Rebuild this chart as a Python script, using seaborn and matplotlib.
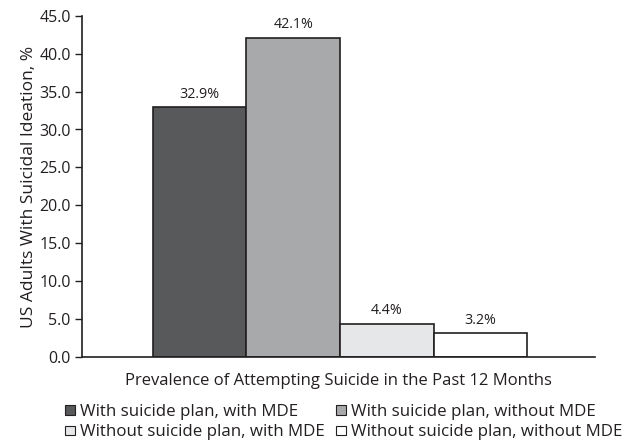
import pandas as pd
import seaborn as sns
import matplotlib.pyplot as plt

groups = ['With suicide plan, with MDE', 'With suicide plan, without MDE',
          'Without suicide plan, with MDE', 'Without suicide plan, without MDE']
values = [32.9, 42.1, 4.4, 3.2]
colors = ['#58595b', '#a7a9ac', '#e6e7e8', '#ffffff']

df = pd.DataFrame({'outcome': ['Prevalence'] * 4, 'group': groups, 'value': values})

sns.set_style('white')
plt.rcParams['font.family'] = ['Open Sans', 'DejaVu Sans']

fig, ax = plt.subplots(figsize=(6.35, 4.44), dpi=100)
sns.barplot(data=df, x='outcome', y='value', hue='group', palette=colors,
            edgecolor='#231f20', linewidth=1.2, width=0.729, ax=ax, legend=True)

for c in ax.containers:
    ax.bar_label(c, labels=[f'{v:.1f}%' for v in c.datavalues], padding=4,
                 fontsize=10.3, color='#231f20')

ax.set_ylim(0, 45)
ax.set_yticks(range(0, 50, 5))
ax.set_yticklabels([f'{t:.1f}' for t in range(0, 50, 5)], fontsize=11.5, color='#231f20')
ax.set_xlim(-0.503, 0.497)
ax.set_xticks([])
ax.set_xlabel('Prevalence of Attempting Suicide in the Past 12 Months', fontsize=12,
              color='#231f20', labelpad=11)
ax.set_ylabel('US Adults With Suicidal Ideation, %', fontsize=12.5, color='#231f20')
ax.yaxis.set_label_coords(-0.088, 0.50)
ax.tick_params(axis='y', direction='out', length=5, width=1, color='#231f20', left=True, pad=3)
sns.despine(ax=ax)
for s in ['left', 'bottom']:
    ax.spines[s].set_color('#231f20')
    ax.spines[s].set_linewidth(1.2)

# row-wise legend order
handles, labels = ax.get_legend_handles_labels()
order = [0, 2, 1, 3]
leg = ax.legend([handles[i] for i in order], [labels[i] for i in order],
                loc='upper center', bbox_to_anchor=(0.51, -0.112), ncol=2, frameon=False,
                fontsize=12.2, handlelength=0.6, handleheight=0.48, handletextpad=0.3,
                columnspacing=0.65, labelspacing=0.25, borderpad=0)
for t in leg.get_texts():
    t.set_color('#231f20')
for h in leg.legend_handles:
    h.set_edgecolor('#231f20')
    h.set_linewidth(0.8)

fig.subplots_adjust(left=0.129, right=0.937, top=0.965, bottom=0.195)
fig.savefig('out.png', dpi=100)
